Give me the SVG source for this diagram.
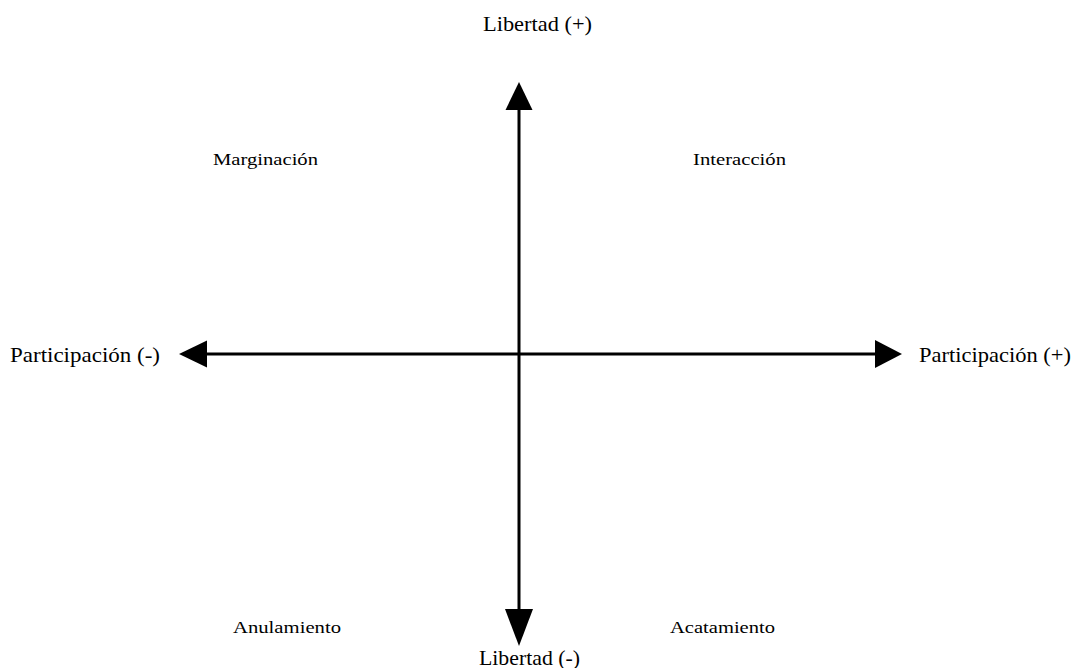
<svg xmlns="http://www.w3.org/2000/svg" width="1076" height="668" viewBox="0 0 1076 668">
<style>
text{font-family:"Liberation Serif","DejaVu Serif",serif;fill:#000}
.ax{font-size:22px}
.q{font-size:17.5px}
.line{stroke:#000;stroke-width:3;fill:none}
.head{fill:#000}
</style>
<rect width="1076" height="668" fill="#fff"/>
<g id="connectors">
<line class="line" x1="519" y1="108" x2="519" y2="611"/>
<line class="line" x1="205" y1="354" x2="877" y2="354"/>
<polygon class="head" points="519,82 532.5,110 505.5,110"/>
<polygon class="head" points="519,646 533,609 505,609"/>
<polygon class="head" points="179,354 207,340.5 207,367.5"/>
<polygon class="head" points="902,354 875,340 875,368"/>
</g>
<g id="libertad-mas"><text class="ax" x="483" y="31" textLength="109" lengthAdjust="spacingAndGlyphs">Libertad (+)</text></g>
<g id="libertad-menos"><text class="ax" x="479" y="665" textLength="101" lengthAdjust="spacingAndGlyphs">Libertad (-)</text></g>
<g id="participacion-menos"><text class="ax" x="10" y="362" textLength="150" lengthAdjust="spacingAndGlyphs">Participación (-)</text></g>
<g id="participacion-mas"><text class="ax" x="919" y="362" textLength="152" lengthAdjust="spacingAndGlyphs">Participación (+)</text></g>
<g id="marginacion"><text class="q" x="213" y="165" textLength="105" lengthAdjust="spacingAndGlyphs">Marginación</text></g>
<g id="interaccion"><text class="q" x="693" y="165" textLength="93" lengthAdjust="spacingAndGlyphs">Interacción</text></g>
<g id="anulamiento"><text class="q" x="233" y="633" textLength="108" lengthAdjust="spacingAndGlyphs">Anulamiento</text></g>
<g id="acatamiento"><text class="q" x="670" y="633" textLength="105" lengthAdjust="spacingAndGlyphs">Acatamiento</text></g>
</svg>
